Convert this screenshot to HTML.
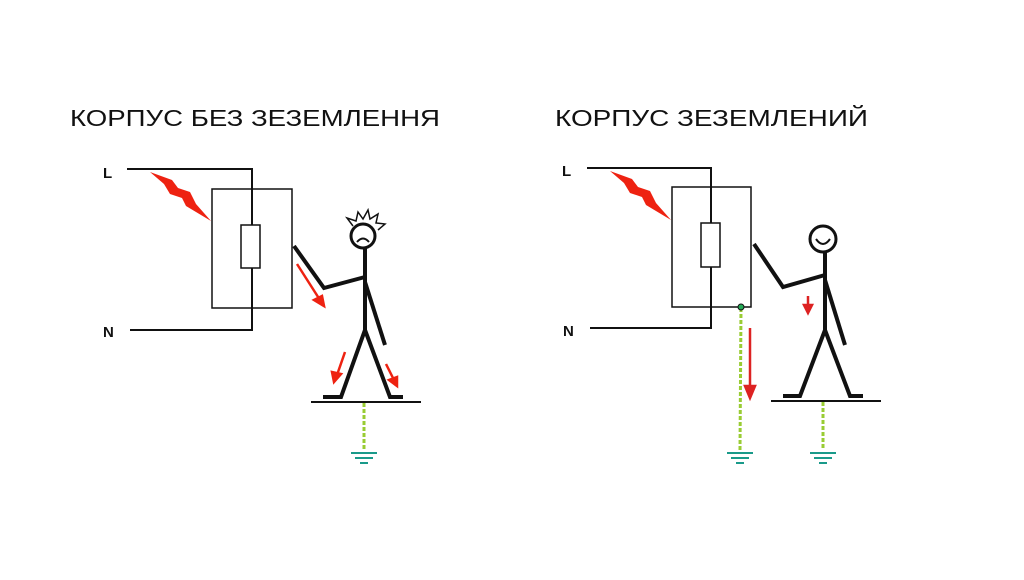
<!DOCTYPE html><html><head><meta charset="utf-8"><style>body{margin:0;background:#fff}svg{display:block}</style></head><body>
<svg width="1024" height="580" xmlns="http://www.w3.org/2000/svg" font-family="Liberation Sans, sans-serif">
<defs>
<g id="gnd" stroke="#1a9a8a" stroke-width="2"><line x1="-13" y1="0" x2="13" y2="0"/><line x1="-9" y1="5" x2="9" y2="5"/><line x1="-4" y1="10" x2="4" y2="10"/></g>
</defs>
<text x="70" y="126" font-size="23" fill="#111" textLength="370" lengthAdjust="spacingAndGlyphs">КОРПУС БЕЗ ЗЕЗЕМЛЕННЯ</text>
<text x="555" y="126" font-size="23" fill="#111" textLength="313" lengthAdjust="spacingAndGlyphs">КОРПУС ЗЕЗЕМЛЕНИЙ</text>
<!-- LEFT -->
<g fill="none" stroke="#111">
<text x="103" y="178" font-size="15" font-weight="bold" fill="#111" stroke="none">L</text>
<text x="103" y="337" font-size="15" font-weight="bold" fill="#111" stroke="none">N</text>
<polyline points="127,169 252,169 252,225" stroke-width="2"/>
<polyline points="130,330 252,330 252,268" stroke-width="2"/>
<rect x="212" y="189" width="80" height="119" stroke-width="1.5"/>
<rect x="241" y="225" width="19" height="43" stroke-width="1.5"/>
<polyline points="294,246 324,288 365,277" stroke-width="4"/>
<circle cx="363" cy="236" r="12" stroke-width="3"/>
<path d="M357,242 q6,-7 12,0" stroke-width="2"/>
<path d="M353,226 l-6,-8 9,3 2,-9 5,7 5,-9 2,9 8,-5 -2,9 9,1 -7,6" stroke-width="1.5"/>
<line x1="365" y1="248" x2="365" y2="330" stroke-width="4"/>
<line x1="365" y1="282" x2="385" y2="345" stroke-width="4"/>
<polyline points="323,397 341,397 365,330 390,397 403,397" stroke-width="4"/>
<line x1="311" y1="402" x2="421" y2="402" stroke-width="2"/>
<line x1="364" y1="403" x2="364" y2="450" stroke="#9c3" stroke-width="3" stroke-dasharray="4,2"/>
</g>
<use href="#gnd" x="364" y="453"/>
<polygon points="150,172 172,180 178,188 190,192 196,204 211,221 186,206 182,198 170,194 164,184" fill="#e21"/>
<g stroke="#e21" stroke-width="2.5" fill="#e21">
<line x1="297" y1="264" x2="320" y2="300"/><polygon points="324,306 314,300 322,296"/>
<line x1="345" y1="352" x2="337" y2="375"/><polygon points="334,382 332,372 341,374"/>
<line x1="386" y1="364" x2="394" y2="380"/><polygon points="397,386 389,380 397,377"/>
</g>
<!-- RIGHT -->
<g fill="none" stroke="#111">
<text x="562" y="176" font-size="15" font-weight="bold" fill="#111" stroke="none">L</text>
<text x="563" y="336" font-size="15" font-weight="bold" fill="#111" stroke="none">N</text>
<polyline points="587,168 711,168 711,223" stroke-width="2"/>
<polyline points="590,328 711,328 711,267" stroke-width="2"/>
<rect x="672" y="187" width="79" height="120" stroke-width="1.5"/>
<rect x="701" y="223" width="19" height="44" stroke-width="1.5"/>
<polyline points="754,244 783,287 825,275" stroke-width="4"/>
<circle cx="823" cy="239" r="13" stroke-width="3"/>
<path d="M816,239 q7,10 14,0" stroke-width="2"/>
<line x1="825" y1="252" x2="825" y2="330" stroke-width="4"/>
<line x1="825" y1="280" x2="845" y2="345" stroke-width="4"/>
<polyline points="783,396 800,396 825,330 850,396 863,396" stroke-width="4"/>
<line x1="771" y1="401" x2="881" y2="401" stroke-width="2"/>
<line x1="823" y1="402" x2="823" y2="450" stroke="#9c3" stroke-width="3" stroke-dasharray="4,2"/>
<line x1="741" y1="308" x2="740" y2="450" stroke="#9c3" stroke-width="3" stroke-dasharray="4,2"/>
<circle cx="741" cy="307" r="3" fill="#2a5" stroke="#111" stroke-width="1"/>
</g>
<use href="#gnd" x="740" y="453"/>
<use href="#gnd" x="823" y="453"/>
<polygon points="610,171 632,179 638,187 650,191 656,203 671,220 646,205 642,197 630,193 624,183" fill="#e21"/>
<g stroke="#d22" stroke-width="2.5" fill="#d22">
<line x1="750" y1="328" x2="750" y2="388"/><polygon points="745,386 755,386 750,398"/>
<line x1="808" y1="296" x2="808" y2="306"/><polygon points="804,305 812,305 808,313"/>
</g>
</svg>
</body></html>
